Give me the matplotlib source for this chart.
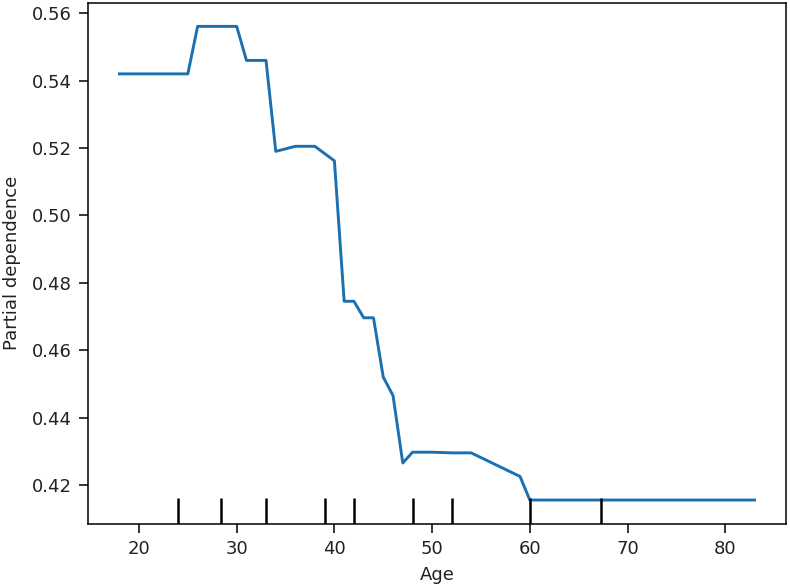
import matplotlib
matplotlib.use("Agg")
import matplotlib.pyplot as plt

age = [18, 25, 26, 30, 31, 33, 34, 36, 38, 40, 41, 42, 43, 44, 45, 46, 47, 48, 50, 52, 54, 59, 60, 83]
pd_values = [0.542, 0.542, 0.5561, 0.5561, 0.546, 0.546, 0.5190, 0.5205, 0.5205, 0.5162,
             0.4745, 0.4745, 0.4696, 0.4696, 0.4520, 0.4465, 0.4265, 0.4297, 0.4297, 0.4295,
             0.4295, 0.4225, 0.4155, 0.4155]
deciles = [24, 28.4, 33, 39, 42, 48, 52, 60, 67.3]
xticks = [20, 30, 40, 50, 60, 70, 80]
yticks = [0.42, 0.44, 0.46, 0.48, 0.50, 0.52, 0.54, 0.56]

fig = plt.figure(figsize=(7.9, 5.87), dpi=100)
ax = fig.add_axes([0.111, 0.1078, 0.8843, 0.8876])
ax.plot(age, pd_values, color="#1a70b0", linewidth=2.1)
ax.set_xticks(xticks)
ax.set_yticks(yticks)
ax.set_yticklabels([f"{v:.2f}" for v in yticks])
ylim = ax.get_ylim()
ax.vlines(deciles, 0, 0.05, transform=ax.get_xaxis_transform(), color="k", linewidth=1.8)
ax.set_ylim(ylim)
ax.set_xlabel("Age", fontsize=13, labelpad=6, color="#222222")
ax.set_ylabel("Partial dependence", fontsize=13, labelpad=8, color="#222222")
ax.tick_params(labelsize=13, length=6.5, width=1.1, pad=5, labelcolor="#222222")
for s in ax.spines.values():
    s.set_linewidth(1.1)
fig.savefig("out.png", dpi=100)
